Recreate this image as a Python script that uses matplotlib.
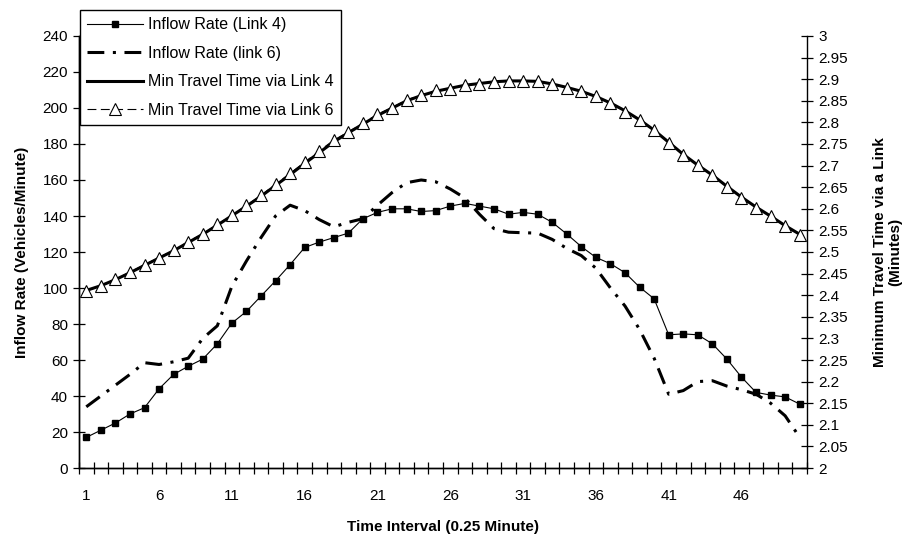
import matplotlib
matplotlib.use('Agg')
import matplotlib.pyplot as plt
from matplotlib.ticker import FixedLocator

plt.rcParams['font.family'] = ['Liberation Sans', 'DejaVu Sans']

# data
intervals = list(range(1, 51))
inflow_link4 = [17, 21, 25, 30, 33.5, 44, 52, 56.5, 60.5, 69,
                80.5, 87, 95.5, 104, 113, 122.5, 125.5, 128, 130.5, 138.5,
                142, 144, 144, 142.5, 143, 145.5, 147, 145.5, 144, 141,
                142, 141, 136.5, 130, 123, 117, 113.5, 108.5, 100.5, 94,
                74, 74.5, 74, 69, 60.5, 50.5, 42, 40.5, 39.5, 35.5]
inflow_link6 = [34, 40, 46, 52, 58.5, 57.5, 59, 61, 72, 79,
                101, 115, 128, 140, 146, 143, 138, 134, 136.5, 138.5,
                146, 153, 158.5, 160, 159, 155, 150, 141, 133, 131,
                130.7, 130.5, 127, 122, 118, 111, 100, 90, 77, 61,
                41, 43, 48, 48.5, 45.5, 43.5, 41, 36, 29, 17]
tt_link4 = [2.411, 2.422, 2.436, 2.452, 2.469, 2.486, 2.503, 2.522, 2.541, 2.562,
            2.584, 2.606, 2.629, 2.654, 2.679, 2.705, 2.730, 2.755, 2.776, 2.796,
            2.816, 2.833, 2.850, 2.862, 2.872, 2.879, 2.886, 2.890, 2.894, 2.896,
            2.896, 2.895, 2.889, 2.881, 2.872, 2.860, 2.845, 2.827, 2.806, 2.782,
            2.754, 2.726, 2.701, 2.678, 2.652, 2.627, 2.604, 2.583, 2.561, 2.541]
tt_link6 = [2.410, 2.421, 2.437, 2.453, 2.471, 2.487, 2.504, 2.524, 2.542, 2.564,
            2.585, 2.608, 2.631, 2.657, 2.682, 2.708, 2.734, 2.759, 2.778, 2.798,
            2.819, 2.834, 2.852, 2.863, 2.874, 2.878, 2.886, 2.890, 2.894, 2.896,
            2.896, 2.896, 2.888, 2.880, 2.873, 2.860, 2.844, 2.825, 2.806, 2.782,
            2.753, 2.724, 2.701, 2.678, 2.651, 2.626, 2.603, 2.583, 2.560, 2.539]

x_labels = ['1', '6', '11', '16', '21', '26', '31', '36', '41', '46']
left_ticks = [0, 20, 40, 60, 80, 100, 120, 140, 160, 180, 200, 220, 240]
right_ticks = [2, 2.05, 2.1, 2.15, 2.2, 2.25, 2.3, 2.35, 2.4, 2.45, 2.5,
               2.55, 2.6, 2.65, 2.7, 2.75, 2.8, 2.85, 2.9, 2.95, 3]

fig = plt.figure(figsize=(9.13, 5.35), dpi=100)
ax = fig.add_axes([79 / 913, 67 / 535, 728 / 913, 432 / 535])
ax2 = ax.twinx()

l1, = ax.plot(intervals, inflow_link4, color='black', lw=0.8, marker='s', ms=3.8,
              label='Inflow Rate (Link 4)')
l2, = ax.plot(intervals, inflow_link6, color='black', lw=2.2, dashes=(5.5, 2.8, 1, 2.8),
              label='Inflow Rate (link 6)')
l3, = ax2.plot(intervals, tt_link4, color='black', lw=2.2,
               label='Min Travel Time via Link 4')
l4, = ax2.plot(intervals, tt_link6, color='black', lw=0.8, dashes=(8, 4),
               marker='^', ms=8.5, mfc='white', mec='black', mew=0.8,
               label='Min Travel Time via Link 6')

ax.set_xlim(0.5, 50.5)
ax.set_ylim(0, 240)
ax2.set_ylim(2, 3)

ax.xaxis.set_major_locator(FixedLocator([int(s) for s in x_labels]))
ax.set_xticklabels(x_labels)
ax.xaxis.set_minor_locator(FixedLocator([i + 0.5 for i in range(0, 51)]))
ax.tick_params(axis='x', which='major', length=0, pad=15, labelsize=11)
ax.tick_params(axis='x', which='minor', direction='inout', length=8, width=0.9)

ax.yaxis.set_major_locator(FixedLocator(left_ticks))
ax.set_yticklabels([str(v) for v in left_ticks])
ax.tick_params(axis='y', direction='inout', length=8, width=0.9, labelsize=11, pad=4)

ax2.yaxis.set_major_locator(FixedLocator(right_ticks))
ax2.set_yticklabels([f'{v:g}' for v in right_ticks])
ax2.tick_params(axis='y', direction='inout', length=8, width=0.9, labelsize=11, pad=4)

for a in (ax, ax2):
    a.spines['top'].set_visible(False)
    for s in a.spines.values():
        s.set_linewidth(1.0)
ax.spines['right'].set_visible(False)

ax.set_ylabel('Inflow Rate (Vehicles/Minute)', fontsize=11, fontweight='bold', labelpad=10)
ax.set_xlabel('Time Interval (0.25 Minute)', fontsize=11, fontweight='bold', labelpad=12)
ax2.set_ylabel('Minimum Travel Time via a Link\n(Minutes)', fontsize=11,
               fontweight='bold', labelpad=18, linespacing=1.1)

leg = ax2.legend(handles=[l1, l2, l3, l4], loc='upper left',
                 bbox_to_anchor=(80 / 913, 1 - 10 / 535), bbox_transform=fig.transFigure,
                 fontsize=11.5, frameon=True, fancybox=False, framealpha=1,
                 edgecolor='black', handlelength=3.5, handletextpad=0.3,
                 labelspacing=0.85, borderpad=0.45, borderaxespad=0)
leg.get_frame().set_linewidth(1.0)

fig.savefig('out.png', dpi=100)
